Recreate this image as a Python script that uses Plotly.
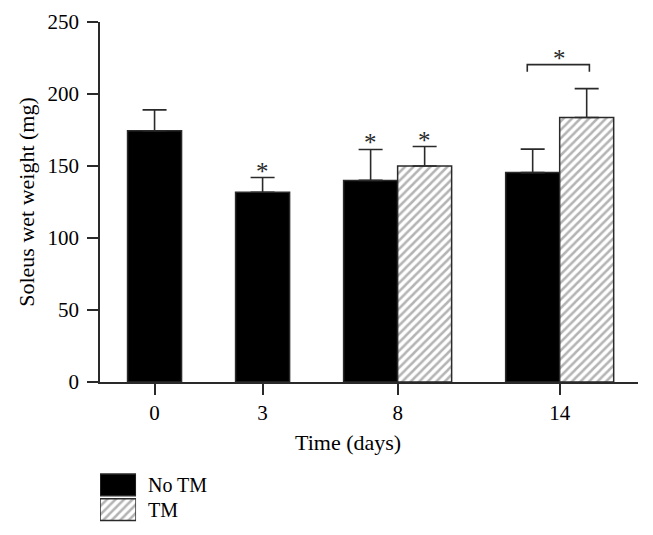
import plotly.graph_objects as go

# ---- data ----
days = ["0", "3", "8", "14"]
no_tm_mean = [174.5, 131.8, 140.0, 145.4]
no_tm_sd = [14.5, 10.2, 21.5, 16.3]
tm_mean = [None, None, 150.0, 183.7]
tm_sd = [None, None, 13.5, 20.0]
no_tm_star = [False, True, True, False]
tm_star = [False, False, True, False]
bracket_level = 220.4
series_names = ["No TM", "TM"]
x_title = "Time (days)"
y_title = "Soleus wet weight (mg)"

# ---- layout helpers (slot positions on the x axis, in bar widths) ----
slot = [0.0, 2.0, 4.5, 7.5]
FONT = "Liberation Serif"
INK = "#2a2a2a"
HATCH = dict(shape="/", fgcolor="#6a6a6a", bgcolor="white", size=6, solidity=0.42)

has_tm = [v is not None for v in tm_mean]
x_no = [s - 0.5 if h else s for s, h in zip(slot, has_tm)]
x_tm = [s + 0.5 for s, h in zip(slot, has_tm) if h]
tm_vals = [v for v in tm_mean if v is not None]
tm_errs = [v for v in tm_sd if v is not None]

fig = go.Figure()

err_style = dict(type="data", symmetric=False, color=INK, thickness=1.6, width=12)

fig.add_trace(go.Bar(
    x=x_no, y=no_tm_mean, width=1.0, name=series_names[0],
    marker=dict(color="black", line=dict(color=INK, width=1.5)),
    error_y=dict(array=no_tm_sd, arrayminus=[0] * len(no_tm_sd), **err_style),
    showlegend=False,
))
fig.add_trace(go.Bar(
    x=x_tm, y=tm_vals, width=1.0, name=series_names[1],
    marker=dict(color="white", line=dict(color=INK, width=1.5), pattern=HATCH),
    error_y=dict(array=tm_errs, arrayminus=[0] * len(tm_errs), **err_style),
    showlegend=False,
))

# significance bracket at day 14
i14 = days.index("14")
bx0, bx1 = slot[i14] - 0.6, slot[i14] + 0.55
fig.add_trace(go.Scatter(
    x=[bx0, bx0, bx1, bx1],
    y=[bracket_level - 5, bracket_level, bracket_level, bracket_level - 5],
    mode="lines", line=dict(color=INK, width=1.6), showlegend=False, hoverinfo="skip",
))

annotations = []
star_font = dict(family=FONT, size=25, color=INK)
STAR_SHIFT = -9
for xv, m, s, st in zip(x_no, no_tm_mean, no_tm_sd, no_tm_star):
    if st:
        annotations.append(dict(x=xv, y=m + s, text="*", showarrow=False, xref="x", yref="y",
                                yanchor="bottom", yshift=STAR_SHIFT, font=star_font))
j = 0
for h, st in zip(has_tm, tm_star):
    if h:
        if st:
            annotations.append(dict(x=x_tm[j], y=tm_vals[j] + tm_errs[j], text="*", showarrow=False,
                                    xref="x", yref="y", yanchor="bottom", yshift=STAR_SHIFT, font=star_font))
        j += 1
annotations.append(dict(x=slot[i14], y=bracket_level, text="*", showarrow=False, xref="x", yref="y",
                        yanchor="bottom", yshift=STAR_SHIFT, font=star_font))

# legend built on a small auxiliary axis
fig.add_trace(go.Bar(
    y=[series_names[0]], x=[1], orientation="h", width=0.87, xaxis="x2", yaxis="y2",
    marker=dict(color="black", line=dict(color=INK, width=1.5)), showlegend=False, hoverinfo="skip",
))
fig.add_trace(go.Bar(
    y=[series_names[1]], x=[1], orientation="h", width=0.87, xaxis="x2", yaxis="y2",
    marker=dict(color="white", line=dict(color=INK, width=1.5), pattern=HATCH),
    showlegend=False, hoverinfo="skip",
))
for nm in series_names:
    annotations.append(dict(x=0.086, y=nm, xref="paper", yref="y2", text=nm, showarrow=False,
                            xanchor="left", yanchor="middle",
                            font=dict(family=FONT, size=20, color="black")))

title_font = dict(family=FONT, size=22, color="black")

# x-axis title (sits slightly left of the plot centre in the original)
annotations.append(dict(x=0.461, y=0.16, xref="paper", yref="paper", text=x_title, showarrow=False,
                        xanchor="center", yanchor="middle", font=title_font))

fig.update_layout(
    width=653, height=535, autosize=False,
    margin=dict(l=92, r=23, t=14, b=21),
    paper_bgcolor="white", plot_bgcolor="white",
    font=dict(family=FONT, size=21, color="black"),
    barmode="overlay",
    xaxis=dict(
        range=[-1.01, 8.95], tickmode="array", tickvals=slot, ticktext=days,
        ticks="outside", ticklen=11, tickwidth=1.5, tickcolor=INK,
        showline=True, linecolor=INK, linewidth=1.5, showgrid=False, zeroline=False,
        anchor="y", automargin=False,
    ),
    yaxis=dict(
        domain=[0.28, 1], range=[0, 250], tickmode="linear", tick0=0, dtick=50,
        ticks="outside", ticklen=11, tickwidth=1.5, tickcolor=INK, ticklabelstandoff=4,
        showline=True, linecolor=INK, linewidth=1.5, showgrid=False, zeroline=False,
        title=dict(text=y_title, standoff=7, font=title_font), anchor="x",
        automargin=False,
    ),
    xaxis2=dict(domain=[0, 0.067], range=[0, 1], visible=False, anchor="y2"),
    yaxis2=dict(domain=[0, 0.099], range=[-0.5, 1.5], visible=False, anchor="x2",
                categoryorder="array", categoryarray=[series_names[1], series_names[0]]),
    annotations=annotations,
)

fig.write_html("out.html")
